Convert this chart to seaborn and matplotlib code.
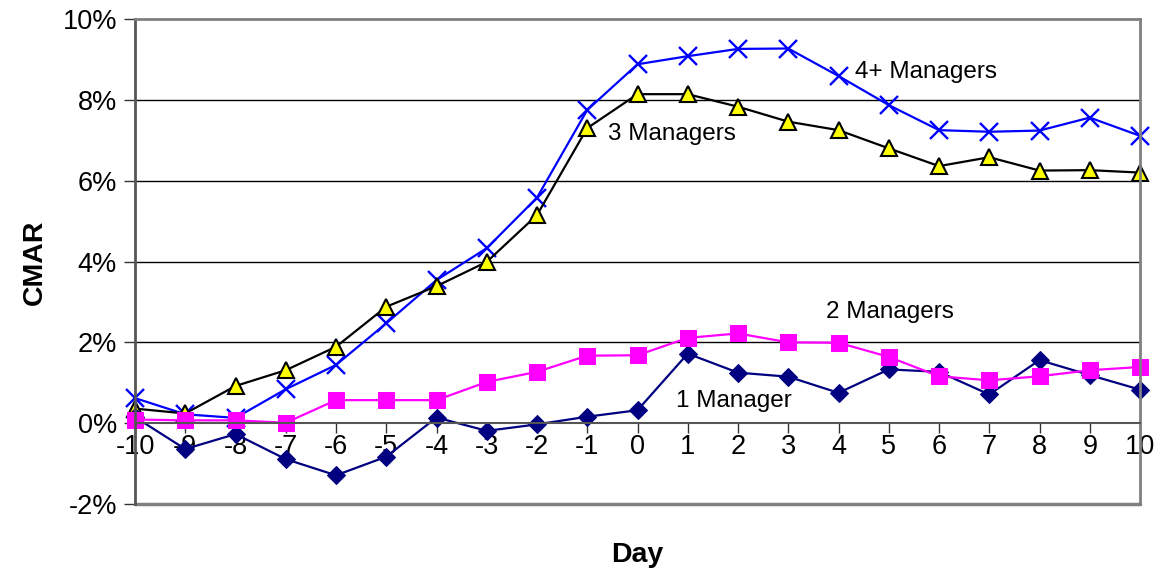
import matplotlib
matplotlib.use("Agg")
import matplotlib.pyplot as plt
import seaborn as sns
import pandas as pd

# data (CMAR in %)
days = list(range(-10, 11))
one_mgr = [0.15, -0.64, -0.27, -0.89, -1.29, -0.83, 0.14, -0.19, -0.03, 0.16, 0.32,
           1.72, 1.25, 1.15, 0.75, 1.33, 1.27, 0.71, 1.56, 1.19, 0.83]
two_mgr = [0.09, 0.07, 0.07, 0.01, 0.57, 0.57, 0.57, 1.02, 1.27, 1.67, 1.68,
           2.11, 2.22, 2.00, 1.99, 1.64, 1.16, 1.06, 1.16, 1.31, 1.39]
three_mgr = [0.36, 0.24, 0.92, 1.31, 1.89, 2.88, 3.39, 3.99, 5.15, 7.30, 8.14,
             8.14, 7.83, 7.46, 7.25, 6.80, 6.36, 6.58, 6.25, 6.26, 6.20]
four_mgr = [0.62, 0.22, 0.13, 0.84, 1.44, 2.47, 3.54, 4.33, 5.58, 7.75, 8.88,
            9.08, 9.26, 9.27, 8.59, 7.87, 7.25, 7.21, 7.24, 7.56, 7.11]
y_ticks = [-2, 0, 2, 4, 6, 8, 10]

df = pd.DataFrame({"Day": days, "1 Manager": one_mgr, "2 Managers": two_mgr,
                   "3 Managers": three_mgr, "4+ Managers": four_mgr})

sns.set_style("white")
plt.rcParams["font.family"] = ["Liberation Sans", "DejaVu Sans"]
plt.rcParams["text.color"] = "black"
plt.rcParams["xtick.color"] = "black"
plt.rcParams["ytick.color"] = "black"

fig = plt.figure(figsize=(11.61, 5.78), dpi=100)
ax = fig.add_axes([135 / 1161, 1 - 504 / 578, 1005 / 1161, 485 / 578])

# series, drawn back to front like the original
sns.lineplot(data=df, x="Day", y="4+ Managers", ax=ax, color="#0000FF", lw=1.6,
             marker="x", markersize=13, markeredgewidth=1.7, markeredgecolor="#0000FF",
             clip_on=False)
sns.lineplot(data=df, x="Day", y="3 Managers", ax=ax, color="black", lw=1.6,
             marker="^", markersize=12, markerfacecolor="#FFFF00",
             markeredgecolor="black", markeredgewidth=1.5, clip_on=False)
sns.lineplot(data=df, x="Day", y="1 Manager", ax=ax, color="#000080", lw=1.6,
             marker="D", markersize=9, markerfacecolor="#000080", markeredgecolor="#000080",
             clip_on=False)
sns.lineplot(data=df, x="Day", y="2 Managers", ax=ax, color="#FF00FF", lw=1.6,
             marker="s", markersize=11.5, markerfacecolor="#FF00FF", markeredgecolor="#FF00FF",
             clip_on=False)

ax.set_xlim(-10, 10)
ax.set_ylim(-2, 10)
ax.set_yticks(y_ticks)
ax.set_yticklabels([f"{v}%" for v in y_ticks])
ax.set_xticks(days)
ax.set_xticklabels([str(d) for d in days])

# gridlines
for v in [2, 4, 6, 8]:
    ax.axhline(v, color="black", lw=1, zorder=0)

# box and axis at zero
ax.spines["bottom"].set_position(("data", 0))
ax.spines["bottom"].set_color("#555555")
ax.spines["bottom"].set_linewidth(1.5)
ax.spines["left"].set_color("#555555")
ax.spines["left"].set_linewidth(2)
ax.spines["top"].set_color("#808080")
ax.spines["top"].set_linewidth(2)
ax.spines["right"].set_color("#808080")
ax.spines["right"].set_linewidth(2)
ax.axhline(-2, color="#808080", lw=2.5, clip_on=False, zorder=1)

ax.tick_params(axis="x", direction="out", length=7, width=1, color="#333333",
               labelsize=19.5, labelcolor="black", pad=1, bottom=True)
ax.tick_params(axis="y", direction="out", length=8, width=1, color="#333333",
               labelsize=19.5, labelcolor="black", pad=5, left=True)

ax.set_xlabel("")
ax.set_ylabel("")
fig.text(637 / 1161, 1 - 555 / 578, "Day", ha="center", va="center",
         fontsize=20.5, fontweight="bold", color="black")
fig.text(35 / 1161, 1 - 262 / 578, "CMAR", ha="center", va="center",
         fontsize=20.5, fontweight="bold", rotation=90, color="black")

# series labels
ax.text(4.33, 8.69, "4+ Managers", fontsize=17.5, va="center", ha="left", color="black")
ax.text(-0.59, 7.15, "3 Managers", fontsize=17.5, va="center", ha="left", color="black")
ax.text(3.75, 2.75, "2 Managers", fontsize=17.5, va="center", ha="left", color="black")
ax.text(0.77, 0.54, "1 Manager", fontsize=17.5, va="center", ha="left", color="black")

fig.savefig("out.png", dpi=100)
